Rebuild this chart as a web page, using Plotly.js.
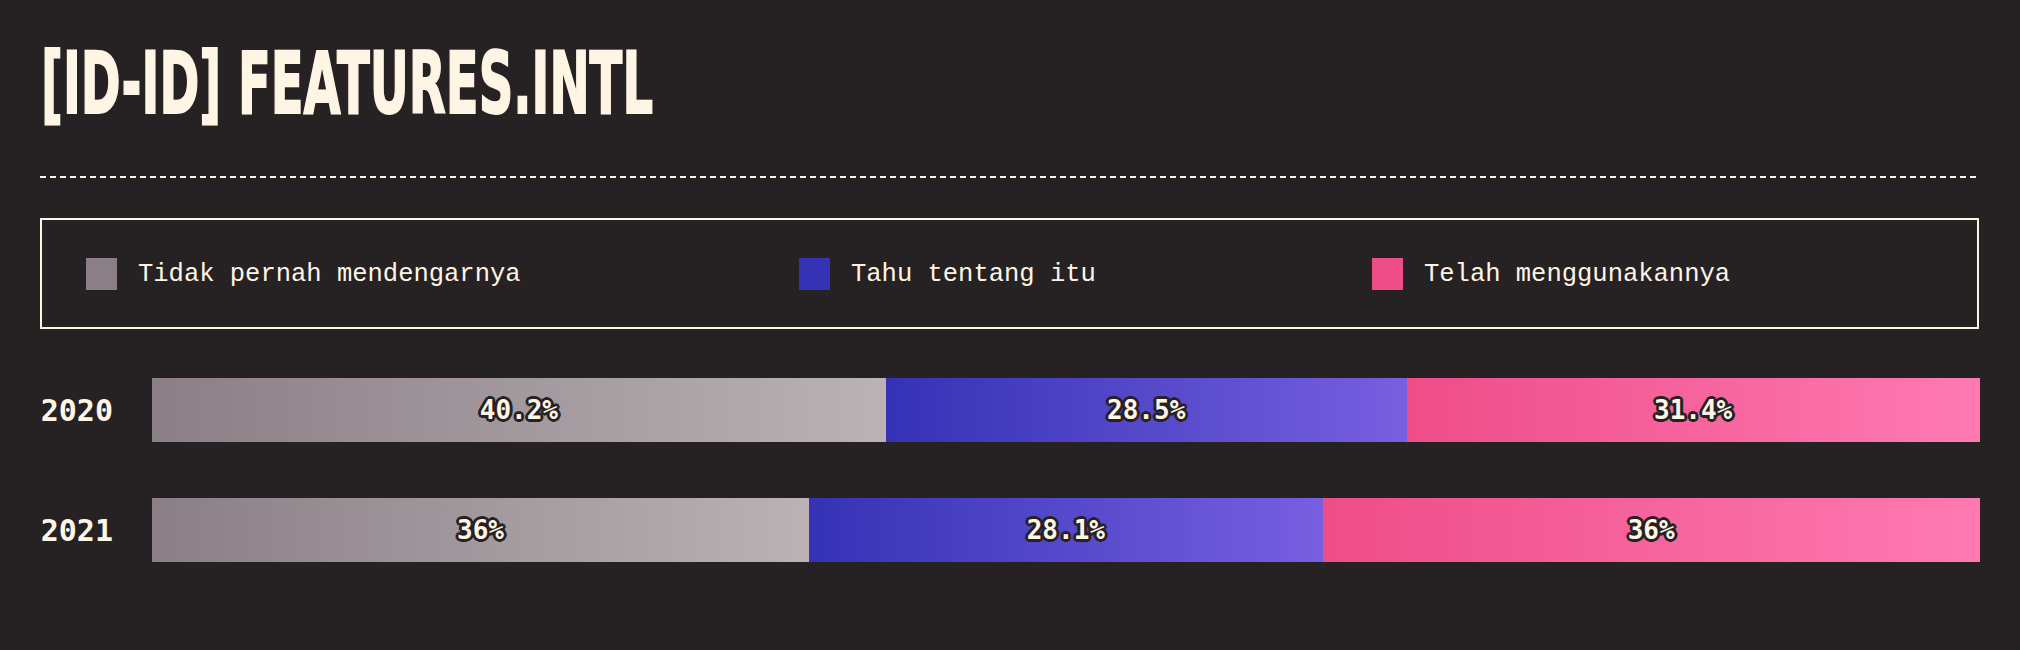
<!DOCTYPE html>
<html>
<head>
<meta charset="utf-8">
<script src="https://cdn.plot.ly/plotly-3.0.1.min.js"></script>
<style>
  html, body { margin: 0; padding: 0; background: #262224; }
  #chart { width: 2020px; height: 650px; }
</style>
</head>
<body>
<div id="chart"></div>
<script>
// ---- data ----
const years = ['2020', '2021'];
const seriesNames = ['Tidak pernah mendengarnya', 'Tahu tentang itu', 'Telah menggunakannya'];
const neverHeard = [40.2, 36];
const knowAbout = [28.5, 28.1];
const haveUsed = [31.4, 36];
const seriesValues = [neverHeard, knowAbout, haveUsed];
const titleText = '[ID-ID] FEATURES.INTL';

// ---- styles ----
const BG = '#262224';
const CREAM = '#fff5e4';
const gradStops = [
  ['#8a7f86', '#bab2b5'],
  ['#3532b6', '#775fe0'],
  ['#ee4d88', '#ff7ab2']
];

const W = 2020, H = 650;
const M = {l: 152, r: 40, t: 350, b: 60};
const plotW = W - M.l - M.r, plotH = H - M.t - M.b;
const px = x => (x - M.l) / plotW;
const py = y => 1 - (y - M.t) / plotH;

const shadowCol = BG;
const outline = [];
for (const dx of [-3, -2, -1, 0, 1, 2, 3]) for (const dy of [-3, -2, -1, 0, 1, 2, 3]) {
  if ((dx || dy) && dx * dx + dy * dy <= 9) outline.push(dx + 'px ' + dy + 'px 0 ' + shadowCol);
}

const traces = seriesValues.map((vals, i) => ({
  type: 'bar',
  orientation: 'h',
  name: seriesNames[i],
  y: years,
  x: vals,
  marker: {color: gradStops[i][0], line: {width: 0}},
  text: vals.map(v => v + '%'),
  textposition: 'inside',
  insidetextanchor: 'middle',
  textangle: 0,
  constraintext: 'none',
  textfont: {family: 'DejaVu Sans Mono', size: 26, weight: 700, color: CREAM, shadow: outline.join(', ')},
  hoverinfo: 'skip',
  showlegend: false
}));

const shapes = [
  {type: 'line', xref: 'paper', yref: 'paper', x0: px(40), x1: px(1980), y0: py(177), y1: py(177),
   line: {color: CREAM, width: 2, dash: '6px,4px'}},
  {type: 'rect', xref: 'paper', yref: 'paper', x0: px(41), x1: px(1978), y0: py(219), y1: py(328),
   line: {color: CREAM, width: 2}, fillcolor: 'rgba(0,0,0,0)'}
];
const annotations = [];
const legendX = [86, 799, 1372];
seriesNames.forEach((n, i) => {
  shapes.push({type: 'rect', xref: 'paper', yref: 'paper',
    x0: px(legendX[i]), x1: px(legendX[i] + 31), y0: py(258), y1: py(290),
    line: {width: 0}, fillcolor: gradStops[i][0]});
  annotations.push({xref: 'paper', yref: 'paper', x: px(legendX[i] + 50), y: py(274),
    xanchor: 'left', yanchor: 'middle', showarrow: false, text: n,
    font: {family: 'Liberation Mono', size: 25.5, color: CREAM}});
});

const layout = {
  width: W, height: H,
  paper_bgcolor: BG, plot_bgcolor: BG,
  margin: M,
  barmode: 'stack',
  barnorm: 'percent',
  bargap: 0.467,
  showlegend: false,
  title: {text: titleText, x: 41 / W, xanchor: 'left', xref: 'container',
          y: 1 - 83 / H, yref: 'container', yanchor: 'middle',
          font: {family: 'DejaVu Sans', size: 86, weight: 700, color: CREAM}},
  xaxis: {range: [0, 100], visible: false, fixedrange: true},
  yaxis: {type: 'category', autorange: 'reversed', showgrid: false, zeroline: false,
          showline: false, ticks: '', ticklabelstandoff: 38,
          tickfont: {family: 'DejaVu Sans Mono', size: 30, weight: 700, color: CREAM}},
  shapes: shapes,
  annotations: annotations
};

Plotly.newPlot('chart', traces, layout, {staticPlot: true, displayModeBar: false}).then(gd => {
  const svg = gd.querySelector('.main-svg');
  let defs = svg.querySelector('defs');
  const NS = 'http://www.w3.org/2000/svg';
  if (!defs) { defs = document.createElementNS(NS, 'defs'); svg.insertBefore(defs, svg.firstChild); }
  gradStops.forEach((g, i) => {
    const lg = document.createElementNS(NS, 'linearGradient');
    lg.setAttribute('id', 'segGrad' + i);
    lg.setAttribute('x1', '0'); lg.setAttribute('x2', '1');
    lg.setAttribute('y1', '0'); lg.setAttribute('y2', '0');
    [[0, g[0]], [1, g[1]]].forEach(([o, c]) => {
      const s = document.createElementNS(NS, 'stop');
      s.setAttribute('offset', o); s.setAttribute('stop-color', c);
      lg.appendChild(s);
    });
    defs.appendChild(lg);
  });
  gd.querySelectorAll('.barlayer .trace').forEach((tr, i) => {
    tr.querySelectorAll('.point path').forEach(p => { p.style.fill = 'url(#segGrad' + i + ')'; });
  });
  const t = gd.querySelector('.gtitle');
  if (t) {
    t.setAttribute('textLength', '612');
    t.setAttribute('lengthAdjust', 'spacingAndGlyphs');
    t.style.stroke = CREAM;
    t.style.strokeWidth = '2px';
  }
});
</script>
</body>
</html>
